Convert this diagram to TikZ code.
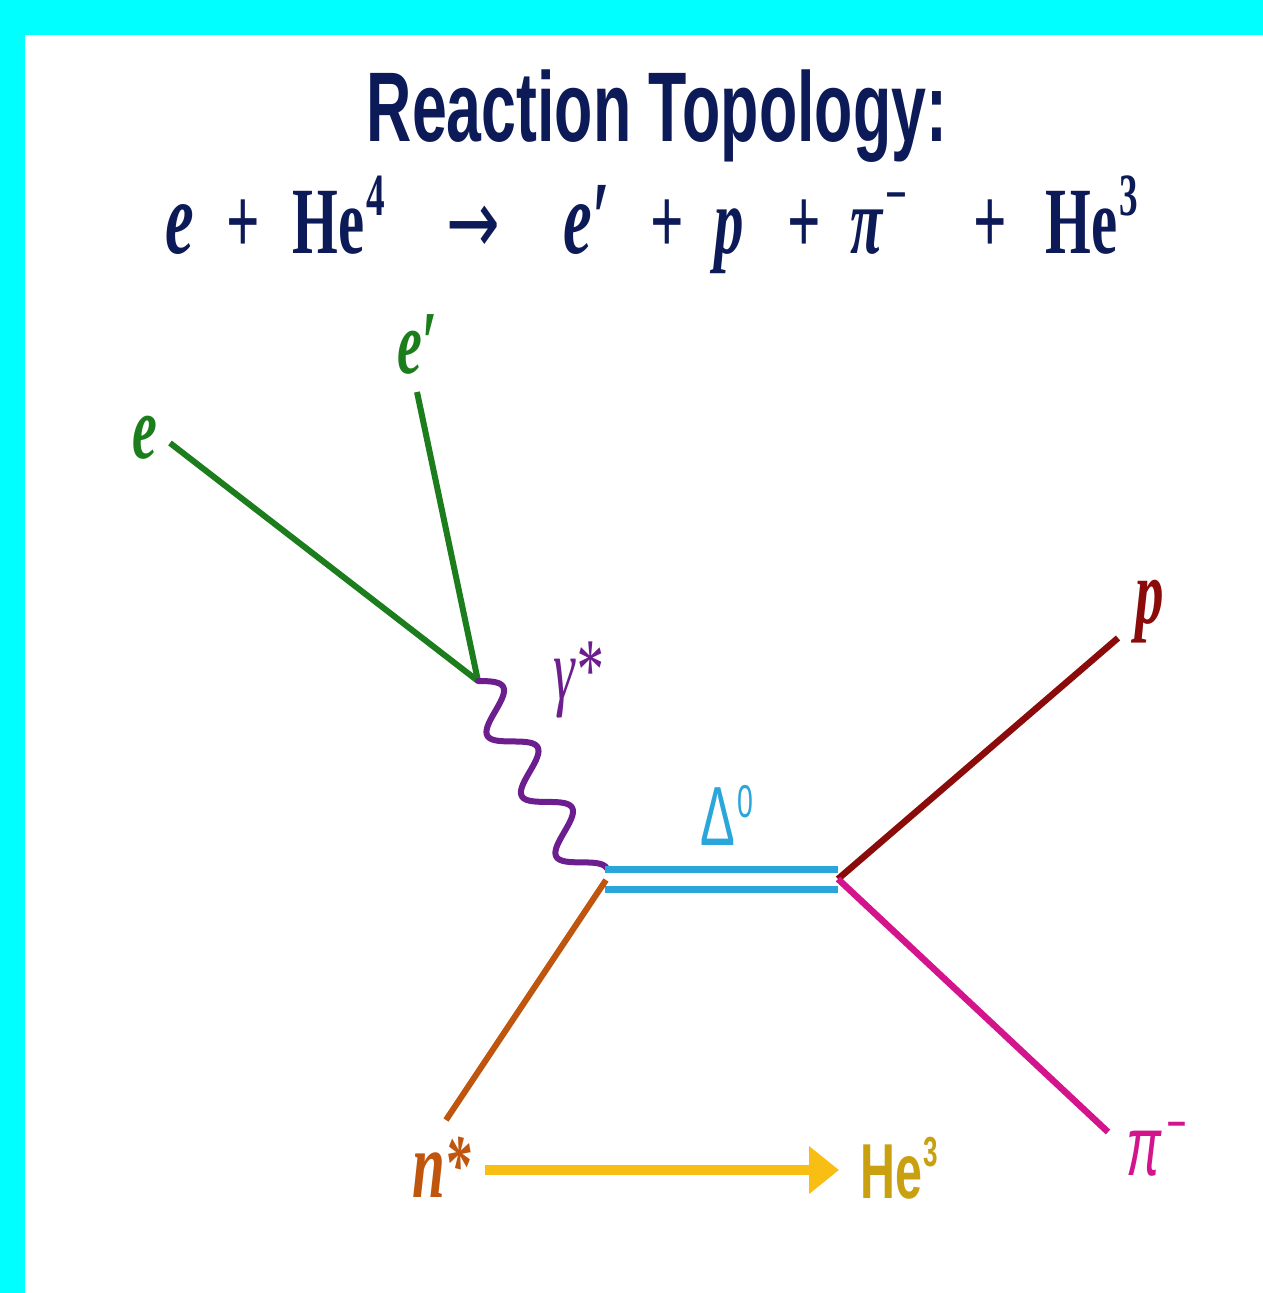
\documentclass[tikz,border=0pt]{standalone}
\usepackage{fontspec}
\setmainfont{Liberation Serif}
\newfontfamily\sansf{Liberation Sans}
\newfontfamily\dejavu{DejaVu Sans}
\usetikzlibrary{arrows.meta}
\definecolor{cyanbg}{HTML}{00FFFF}
\definecolor{navy}{HTML}{0C1A57}
\definecolor{egreen}{HTML}{1B7D1B}
\definecolor{wpurple}{HTML}{6C1D8E}
\definecolor{dblue}{HTML}{2BA6DA}
\definecolor{nbrown}{HTML}{C0560E}
\definecolor{pred}{HTML}{8B0A0A}
\definecolor{pimag}{HTML}{D4148C}
\definecolor{ayellow}{HTML}{F9BE14}
\definecolor{hegold}{HTML}{C9A010}
\newcommand\sq[1]{\scalebox{0.62}[1]{#1}}
\newcommand\putat[2]{\makebox[0pt][l]{\hspace*{#1pt}\sq{#2}}}
% raised superscript: #1 raise (pt), #2 size (pt), #3 text
\newcommand\rsup[3]{\raisebox{#1pt}{\fontsize{#2}{#2}\selectfont #3}}
\begin{document}
\begin{tikzpicture}[x=1pt,y=-1pt,
  lbl/.style={inner sep=0pt, anchor=base west},
  eline/.style={draw=egreen, line width=6pt},
  wave/.style={draw=wpurple, line width=6pt},
  dline/.style={draw=dblue, line width=7pt},
  nline/.style={draw=nbrown, line width=6pt},
  pline/.style={draw=pred, line width=6.5pt},
  piline/.style={draw=pimag, line width=6.5pt},
  yarrow/.style={draw=ayellow, line width=10pt, -{Triangle[length=30pt,width=46pt]}}]
\useasboundingbox (0,0) rectangle (1263,1293);
\fill[cyanbg] (0,0) rectangle (1263,1293);
\fill[white] (25,35) rectangle (1263,1293);

% title
\node[lbl, anchor=base, text=navy] (title) at (657,141)
  {\sansf\bfseries\fontsize{99}{100}\selectfont\scalebox{0.633}[1]{Reaction Topology:}};
% equation
\node[lbl, text=navy] (eq) at (165,253) {\bfseries\fontsize{95}{100}\selectfont
  \putat{0}{\fontsize{104}{100}\selectfont\itshape e}\putat{61}{+}\putat{127}{He\hspace{3pt}\rsup{38}{60}{4}}%
  \putat{281}{\dejavu\mdseries\fontsize{90}{100}\selectfont\scalebox{1.15}[1]{→}}%
  \putat{398}{\fontsize{104}{100}\selectfont\itshape e′}\putat{485}{+}\putat{549}{\itshape p}\putat{622}{+}%
  \putat{685}{\itshape π\hspace{4pt}\rsup{38}{62}{−}}\putat{808}{+}\putat{880}{He\hspace{3pt}\rsup{38}{60}{3}}\hspace*{980pt}};

% vertices and free ends
\coordinate (v1) at (478,681);
\coordinate (v2) at (606,880);
\coordinate (v3) at (838,879);
\coordinate (eS) at (170,443);
\coordinate (epS) at (417,392);
\coordinate (pE) at (1118,638);
\coordinate (piE) at (1108,1132);
\coordinate (nE) at (446,1120);
\coordinate (d1a) at (605,869);
\coordinate (d1b) at (838,869);
\coordinate (d2a) at (605,889);
\coordinate (d2b) at (838,889);
\coordinate (aS) at (485,1170);
\coordinate (aE) at (839,1170);

% lines
\draw[eline] (eS) -- (v1);
\draw[eline] (epS) -- (v1);
\begin{scope}[shift={(v1)}, rotate=-60.3]
  \draw[wave, line cap=round, line join=round] plot[domain=0:226.2, samples=150, smooth] (\x, {-19*sin(\x/69.6*360)});
\end{scope}
\draw[dline] (d1a) -- (d1b);
\draw[dline] (d2a) -- (d2b);
\draw[nline] (v2) -- (nE);
\draw[pline] (v3) -- (pE);
\draw[piline] (v3) -- (piE);
\draw[yarrow] (aS) -- (aE);

% labels
\node[lbl, text=egreen] (le) at (132,458) {\bfseries\itshape\fontsize{90}{90}\selectfont\sq{e}};
\node[lbl, text=egreen] (lep) at (397,373) {\bfseries\itshape\fontsize{90}{90}\selectfont\sq{e′}};
\node[lbl, text=wpurple] (lgam) at (553,699) {\itshape\fontsize{88}{90}\selectfont\sq{γ*}};
\node[lbl, text=dblue] (ldel) at (700,845) {\sansf\fontsize{84}{90}\selectfont\sq{Δ\hspace{4pt}\rsup{28}{46}{0}}};
\node[lbl, text=pred] (lp) at (1135,623) {\bfseries\itshape\fontsize{92}{90}\selectfont\sq{p}};
\node[lbl, text=pimag] (lpi) at (1126,1175) {\sansf\itshape\fontsize{84}{90}\selectfont\sq{π\hspace{8pt}\rsup{33}{55}{−}}};
\node[lbl, text=nbrown] (ln) at (412,1197) {\bfseries\itshape\fontsize{95}{90}\selectfont\sq{n\rsup{4}{85}{*}}};
\node[lbl, text=hegold] (lhe) at (860,1198) {\sansf\bfseries\fontsize{78}{90}\selectfont\sq{He\hspace{2pt}\rsup{32}{42}{3}}};
\end{tikzpicture}
\end{document}
